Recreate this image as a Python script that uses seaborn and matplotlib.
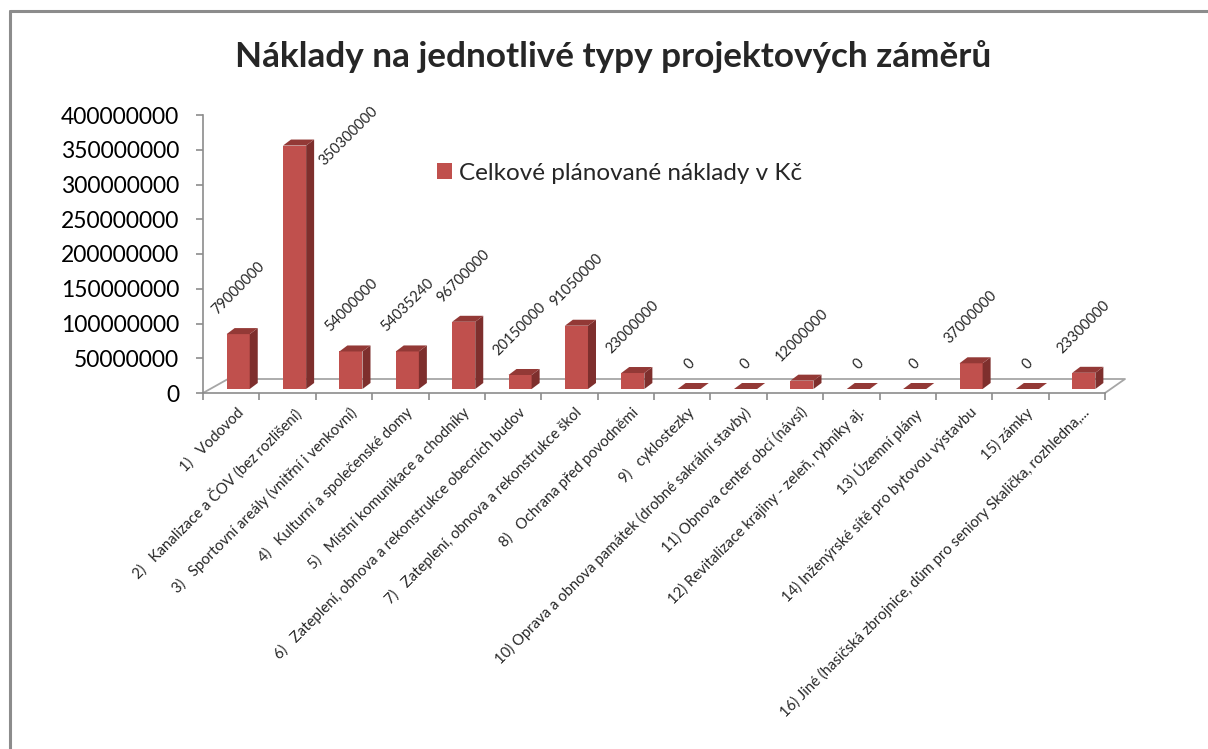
import matplotlib
matplotlib.use("Agg")
import matplotlib.pyplot as plt
import seaborn as sns
import numpy as np
import pandas as pd
from matplotlib.patches import Polygon, Patch
from matplotlib.lines import Line2D
from matplotlib.transforms import ScaledTranslation
from matplotlib.ticker import FuncFormatter, FixedLocator

# ---- data ----
categories = [
    "1)   Vodovod",
    "2)   Kanalizace a ČOV (bez rozlišení)",
    "3)   Sportovní areály (vnitřní i venkovní)",
    "4)   Kulturní a společenské domy",
    "5)   Místní komunikace a chodníky",
    "6)   Zateplení, obnova a rekonstrukce obecních budov",
    "7)   Zateplení, obnova a rekonstrukce škol",
    "8)   Ochrana před povodněmi",
    "9)   cyklostezky",
    "10) Oprava a obnova památek (drobné sakrální stavby)",
    "11) Obnova center obcí (návsí)",
    "12) Revitalizace krajiny - zeleň, rybníky aj.",
    "13) Územní plány",
    "14) Inženýrské sítě pro bytovou výstavbu",
    "15) zámky",
    "16) Jiné (hasičská zbrojnice, dům pro seniory Skalička, rozhledna,...",
]
values = [79000000, 350300000, 54000000, 54035240, 96700000, 20150000,
          91050000, 23000000, 0, 0, 12000000, 0, 0, 37000000, 0, 23300000]
series_name = "Celkové plánované náklady v Kč"
title = "Náklady na jednotlivé typy projektových záměrů"
y_ticks = [0, 50000000, 100000000, 150000000, 200000000, 250000000,
           300000000, 350000000, 400000000]

# ---- style ----
sns.set_theme(style="white")
plt.rcParams["font.family"] = ["Lato", "DejaVu Sans"]

FRONT = "#C0504D"
SIDE = "#7E2F2D"
TOP = "#933936"
GRAY = "#8C8C8C"

W, H, DPI = 1208, 749, 100
fig = plt.figure(figsize=(W / DPI, H / DPI), dpi=DPI)

ax_l, ax_r, ax_t, ax_b = 203, 1105, 115, 393
ax = fig.add_axes([ax_l / W, 1 - ax_b / H, (ax_r - ax_l) / W, (ax_b - ax_t) / H])

df = pd.DataFrame({"cat": categories, "val": values})
sns.barplot(data=df, x="cat", y="val", color=FRONT, width=0.41, ax=ax,
            saturation=1, edgecolor="none", linewidth=0)

ax.set_xlim(-0.5, len(categories) - 0.5)
ax.set_ylim(0, 400000000)
ax.set_xlabel("")
ax.set_ylabel("")

# y axis
ax.yaxis.set_major_locator(FixedLocator(y_ticks))
ax.yaxis.set_major_formatter(FuncFormatter(lambda v, p: f"{int(v)}"))
ax.tick_params(axis="y", which="major", left=True, length=5, width=1.2,
               color=GRAY, labelsize=16.5, pad=12, labelcolor="#000000")

# x axis: boundary ticks (major, no label) and centred labels (minor)
ax.set_xticks(np.arange(-0.5, len(categories), 1.0))
ax.set_xticklabels([])
ax.set_xticks(np.arange(len(categories)), minor=True)
ax.set_xticklabels(categories, minor=True, rotation=45, ha="right",
                   rotation_mode="anchor", fontsize=10.7)
ax.tick_params(axis="x", which="major", bottom=True, length=5, width=1.2,
               color=GRAY)
ax.tick_params(axis="x", which="minor", bottom=False, length=0, pad=0)
for lab in ax.get_xticklabels(minor=True):
    lab.set_transform(lab.get_transform() +
                      ScaledTranslation(5 / DPI, -12 / DPI, fig.dpi_scale_trans))

for s in ["top", "right"]:
    ax.spines[s].set_visible(False)
for s in ["left", "bottom"]:
    ax.spines[s].set_color(GRAY)
    ax.spines[s].set_linewidth(1.2)
ax.patch.set_alpha(0)

# ---- 3D-like bars: shift front faces, add side and top faces ----
DX_F, DY_F = 7, 4        # front face offset (pixels, y up)
DEP_X, DEP_Y = 8, 6      # depth of bars (pixels)
fig.canvas.draw()
inv = fig.transFigure.inverted()
bars = list(ax.patches)
tops_px = []
for p in bars:
    p.set_transform(ax.transData +
                    ScaledTranslation(DX_F / DPI, DY_F / DPI, fig.dpi_scale_trans))
    x0, y0 = p.get_x(), p.get_y()
    x1, y1 = x0 + p.get_width(), y0 + p.get_height()
    (px0, py0), (px1, py1) = ax.transData.transform([(x0, y0), (x1, y1)])
    px0 += DX_F; px1 += DX_F; py0 += DY_F; py1 += DY_F
    tops_px.append(((px0 + px1) / 2, py1, px1))
    side = [(px1, py0), (px1 + DEP_X, py0 + DEP_Y),
            (px1 + DEP_X, py1 + DEP_Y), (px1, py1)]
    top = [(px0, py1), (px1, py1), (px1 + DEP_X, py1 + DEP_Y),
           (px0 + DEP_X, py1 + DEP_Y)]
    fig.add_artist(Polygon(inv.transform(side), closed=True, facecolor=SIDE,
                           edgecolor="none", transform=fig.transFigure))
    fig.add_artist(Polygon(inv.transform(top), closed=True, facecolor=TOP,
                           edgecolor="none", transform=fig.transFigure))

# floor outline (behind the bars)
floor = [(ax_l, H - ax_b), (ax_l + 25, H - ax_b + 14),
         (ax_r + 20, H - ax_b + 14), (ax_r, H - ax_b)]
fx, fy = zip(*inv.transform(floor))
fig.add_artist(Line2D(fx, fy, color="#A6A6A6", lw=1.3, transform=fig.transFigure,
                      zorder=-1))

# ---- value labels ----
axes_top_px = H - ax_t
for (cx, ty, rx), v in zip(tops_px, values):
    t = ax.annotate(f"{v}", xy=(cx, ty), xycoords="figure pixels",
                    xytext=(0, 17), textcoords="offset pixels",
                    rotation=45, ha="center", va="bottom", fontsize=10.5)
    fig.canvas.draw()
    bb = t.get_window_extent()
    if bb.y1 > axes_top_px:
        t.remove()
        ax.annotate(f"{v}", xy=(rx + DEP_X + 3, ty + 9), xycoords="figure pixels",
                    rotation=45, ha="left", va="center", fontsize=10.5)

# ---- legend ----
fig.legend(handles=[Patch(facecolor=FRONT, edgecolor="none", label=series_name)],
           loc="center left", bbox_to_anchor=(437 / W, 1 - 173 / H),
           frameon=False, fontsize=17.5, handlelength=0.6, handleheight=0.6,
           handletextpad=0.3, borderpad=0, borderaxespad=0)

# ---- title ----
fig.text(613 / W, 1 - 57 / H, title, ha="center", va="center",
         fontsize=25.3, fontweight="bold")

# ---- outer frame (left and top edges visible) ----
fig.add_artist(Line2D([10 / W, 10 / W], [0, 1 - 11 / H], color=GRAY, lw=2.2,
                      transform=fig.transFigure))
fig.add_artist(Line2D([10 / W, 1], [1 - 11 / H, 1 - 11 / H], color=GRAY, lw=2.2,
                      transform=fig.transFigure))

fig.savefig("out.png", dpi=DPI)
